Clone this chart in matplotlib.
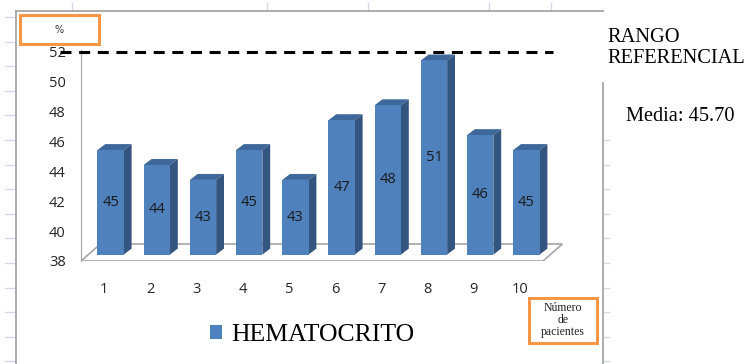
import numpy as np
import matplotlib
matplotlib.use("Agg")
import matplotlib.pyplot as plt
from matplotlib.patches import Polygon, Rectangle
from matplotlib.lines import Line2D

# --- datos ---
pacientes = [1, 2, 3, 4, 5, 6, 7, 8, 9, 10]
hematocrito = [45, 44, 43, 45, 43, 47, 48, 51, 46, 45]
y_ticks = [38, 40, 42, 44, 46, 48, 50, 52]
rango_ref = 52
serie = "HEMATOCRITO"

W, H = 754, 364
FRONT = "#4F81BD"
TOP = "#3D6899"
SIDE = "#34557F"
ORANGE = "#F79646"
FRAME = "#A6A6A6"
GRID = "#D3DAE6"


def fx(px):
    return px / W


def fy(py):
    return 1 - py / H


fig = plt.figure(figsize=(W / 100, H / 100), dpi=100)
fig.patch.set_facecolor("white")

# hoja de calculo de fondo: marcas de celdas y marco del grafico
for y in np.arange(17, H, 24.6):
    fig.add_artist(Line2D([fx(5), fx(15)], [fy(y), fy(y)], color=GRID, lw=1))
    if y > 130:
        fig.add_artist(Line2D([fx(604), fx(609)], [fy(y), fy(y)], color=GRID, lw=1))
for x in [72, 267, 368, 489, 551]:
    fig.add_artist(Line2D([fx(x), fx(x)], [fy(3), fy(10)], color=GRID, lw=1))
fig.add_artist(Line2D([fx(16), fx(603)], [fy(11), fy(11)], color=FRAME, lw=1.3))
fig.add_artist(Line2D([fx(16), fx(16)], [fy(11), fy(H)], color=FRAME, lw=1.3))
fig.add_artist(Line2D([fx(603), fx(603)], [fy(83), fy(H)], color=FRAME, lw=1.3))

# ejes: 46.2 px por paciente, 14.93 px por unidad
ax_l, ax_b, ax_w, ax_h = 81, 261, 500, 221
ax = fig.add_axes([fx(ax_l), fy(ax_b), ax_w / W, ax_h / H])
ax.set_xlim(0.5, 0.5 + ax_w / 46.2)
ax.set_ylim(38, 38 + ax_h / 14.93)
ax.patch.set_alpha(0)
for s in ["top", "right", "bottom"]:
    ax.spines[s].set_visible(False)
ax.spines["left"].set_color(FRAME)
ax.spines["left"].set_bounds(38, 52.1)

# suelo en perspectiva
fdx, fdy = 0.42, 1.14
ax.add_patch(Polygon([(0.5, 38), (10.5, 38), (10.5 + fdx, 38 + fdy), (0.5 + fdx, 38 + fdy)],
                     closed=True, facecolor="white", edgecolor=FRAME, lw=1.2, zorder=1))

# barras 3D
shx, shy = 0.14, 0.43
bw = 0.57
ddx, ddy = 0.17, 0.4
x = np.array(pacientes, dtype=float)
v = np.array(hematocrito, dtype=float)
base = 38 + shy
ax.bar(x + shx, v - 38, bottom=base, width=bw, color=FRONT, zorder=3, label=serie)
for xi, vi in zip(x, v):
    xl = xi + shx - bw / 2
    xr = xi + shx + bw / 2
    top = vi + shy
    ax.add_patch(Polygon([(xl, top), (xr, top), (xr + ddx, top + ddy), (xl + ddx, top + ddy)],
                         closed=True, facecolor=TOP, edgecolor="none", zorder=2))
    ax.add_patch(Polygon([(xr, base), (xr, top), (xr + ddx, top + ddy), (xr + ddx, base + ddy)],
                         closed=True, facecolor=SIDE, edgecolor="none", zorder=2))
    ax.text(xi + shx, (base + top) / 2, f"{int(vi)}", ha="center", va="center",
            fontsize=10.5, family="Open Sans", color="#1a1a1a", zorder=4)

ax.set_yticks(y_ticks)
ax.set_xticks(pacientes)
ax.tick_params(axis="y", length=0, pad=11, labelsize=10.5, labelcolor="#262626")
ax.tick_params(axis="x", length=0, pad=15, labelsize=10.5, labelcolor="#262626")
for lab in ax.get_xticklabels() + ax.get_yticklabels():
    lab.set_family("Open Sans")

# linea del rango referencial
ax.plot([0.05, 10.72], [rango_ref, rango_ref], color="black", lw=2.2,
        linestyle=(0, (3.6, 2.5)), clip_on=False, zorder=5)

# cuadros naranjas
fig.add_artist(Rectangle((fx(20), fy(44)), 79 / W, 29 / H, transform=fig.transFigure,
                         fill=False, edgecolor=ORANGE, lw=2.2))
fig.text(fx(59), fy(30), "%", ha="center", va="center", fontsize=7, color="#333333")
fig.add_artist(Rectangle((fx(529), fy(343)), 68 / W, 45 / H, transform=fig.transFigure,
                         fill=False, edgecolor=ORANGE, lw=2.2))
fig.text(fx(563), fy(320), "Número\nde\npacientes", ha="center", va="center",
         fontsize=8.5, family="Liberation Serif", linespacing=1.05, color="#222222")

# leyenda
fig.legend(loc="center", bbox_to_anchor=(fx(312), fy(335)), frameon=False,
           prop={"family": "Liberation Serif", "size": 18.5},
           handlelength=0.47, handleheight=0.47, handletextpad=0.35)

# textos de la derecha
fig.text(fx(607), fy(42), "RANGO", fontsize=14.7, family="Liberation Serif", va="baseline")
fig.text(fx(607), fy(63), "REFERENCIAL", fontsize=14.7, family="Liberation Serif", va="baseline")
fig.text(fx(626), fy(121), f"Media: {np.mean(hematocrito):.2f}", fontsize=14.7,
         family="Liberation Serif", va="baseline")

fig.savefig("out.png", dpi=100)
